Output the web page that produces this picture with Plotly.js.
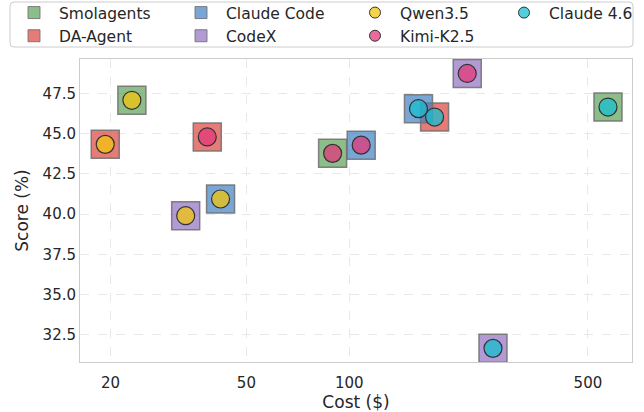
<!DOCTYPE html>
<html>
<head>
<meta charset="utf-8">
<script src="https://cdn.plot.ly/plotly-3.0.1.min.js"></script>
<style>html,body{margin:0;padding:0;background:#fff;}#chart{width:644px;height:412px;}</style>
</head>
<body>
<div id="chart"></div>
<script>
// ---- data ----
const frameworkNames = ['Smolagents', 'DA-Agent', 'Claude Code', 'CodeX'];
const modelNames = ['Qwen3.5', 'Kimi-K2.5', 'Claude 4.6'];
const runFramework = ['DA-Agent', 'Smolagents', 'DA-Agent', 'CodeX', 'Claude Code', 'Smolagents', 'Claude Code', 'Claude Code', 'DA-Agent', 'CodeX', 'Smolagents', 'CodeX'];
const runModel = ['Qwen3.5', 'Qwen3.5', 'Kimi-K2.5', 'Qwen3.5', 'Qwen3.5', 'Kimi-K2.5', 'Kimi-K2.5', 'Claude 4.6', 'Claude 4.6', 'Kimi-K2.5', 'Claude 4.6', 'Claude 4.6'];
const runCost = [19.3, 23.1, 38.4, 33.2, 42.0, 89.4, 108.4, 159.5, 177.8, 221.6, 572.4, 263.6];
const runScore = [44.34, 47.08, 44.8, 39.9, 40.94, 43.78, 44.29, 46.56, 46.04, 48.75, 46.66, 31.65];
const xTickVals = [20, 50, 100, 500];
const xTickText = ['20', '50', '100', '500'];
const yTickVals = [32.5, 35.0, 37.5, 40.0, 42.5, 45.0, 47.5];
const yTickText = ['32.5', '35.0', '37.5', '40.0', '42.5', '45.0', '47.5'];

// ---- styles ----
const frameworkColor = {
  'Smolagents': 'rgba(92,163,88,0.7)',
  'DA-Agent': 'rgba(218,68,62,0.7)',
  'Claude Code': 'rgba(65,128,197,0.7)',
  'CodeX': 'rgba(145,113,194,0.7)'
};
const modelColor = {
  'Qwen3.5': 'rgba(241,196,15,0.75)',
  'Kimi-K2.5': 'rgba(226,56,122,0.75)',
  'Claude 4.6': 'rgba(23,190,207,0.75)'
};
const FONT = 'DejaVu Sans, sans-serif';
const TXT = '#262626';

const traces = [];
frameworkNames.forEach(f => {
  const xs = [], ys = [];
  runFramework.forEach((rf, i) => { if (rf === f) { xs.push(runCost[i]); ys.push(runScore[i]); } });
  traces.push({
    type: 'scatter', mode: 'markers', x: xs, y: ys, showlegend: false, hoverinfo: 'skip',
    cliponaxis: false,
    marker: {symbol: 'square', size: 28, color: frameworkColor[f], line: {color: 'rgba(110,110,110,0.85)', width: 1.5}}
  });
});
modelNames.forEach(m => {
  const xs = [], ys = [];
  runModel.forEach((rm, i) => { if (rm === m) { xs.push(runCost[i]); ys.push(runScore[i]); } });
  traces.push({
    type: 'scatter', mode: 'markers', x: xs, y: ys, showlegend: false, hoverinfo: 'skip',
    cliponaxis: false,
    marker: {symbol: 'circle', size: 18, color: modelColor[m], line: {color: '#333333', width: 1.2}}
  });
});

// legend columns
const legendColumns = [
  [['Smolagents', 'square'], ['DA-Agent', 'square']],
  [['Claude Code', 'square'], ['CodeX', 'square']],
  [['Qwen3.5', 'circle'], ['Kimi-K2.5', 'circle']],
  [['Claude 4.6', 'circle']]
];
const legendIds = ['legend', 'legend2', 'legend3', 'legend4'];
legendColumns.forEach((col, ci) => {
  col.forEach(([name, sym]) => {
    const isSq = sym === 'square';
    traces.push({
      type: 'scatter', mode: 'markers', x: [null], y: [null], name: name, showlegend: true,
      legend: legendIds[ci],
      marker: {
        symbol: sym, size: isSq ? 12 : 11,
        color: isSq ? frameworkColor[name] : modelColor[name],
        line: {color: isSq ? 'rgba(110,110,110,0.85)' : '#333333', width: 1}
      }
    });
  });
});

const L = 80, R = 12, T = 59, B = 50, W = 644, H = 412;
const pw = W - L - R, ph = H - T - B;
const px2x = p => (p - L) / pw;
const py2y = p => (H - B - p) / ph;

const colMarkerX = [33, 200, 374, 523];
const layout = {
  width: W, height: H,
  paper_bgcolor: '#ffffff', plot_bgcolor: '#ffffff',
  font: {family: FONT, size: 15, color: TXT},
  margin: {l: L, r: R, t: T, b: B, autoexpand: false},
  showlegend: true,
  xaxis: {
    type: 'log', range: [Math.log10(16.28), Math.log10(673)],
    tickmode: 'array', tickvals: xTickVals, ticktext: xTickText,
    showgrid: true, gridcolor: '#e8e8e8', griddash: 'dash', gridwidth: 1,
    showline: true, linecolor: '#cccccc', linewidth: 1, mirror: true,
    ticks: '', zeroline: false, ticklabelstandoff: 7,
    tickfont: {family: FONT, size: 15, color: TXT},
    title: {text: 'Cost ($)', font: {family: FONT, size: 17, color: TXT}, standoff: 1}
  },
  yaxis: {
    range: [30.8, 49.65],
    tickmode: 'array', tickvals: yTickVals, ticktext: yTickText,
    showgrid: true, gridcolor: '#e8e8e8', griddash: 'dash', gridwidth: 1,
    showline: true, linecolor: '#cccccc', linewidth: 1, mirror: true,
    ticks: '', zeroline: false,
    tickfont: {family: FONT, size: 15, color: TXT},
    title: {text: 'Score (%)', font: {family: FONT, size: 17, color: TXT}, standoff: 9}
  },
  shapes: []
};
legendIds.forEach((id, ci) => {
  layout[id] = {
    orientation: 'v',
    x: px2x(colMarkerX[ci] - 24), y: py2y(-4), xanchor: 'left', yanchor: 'top',
    bgcolor: 'rgba(0,0,0,0)', borderwidth: 0,
    font: {family: FONT, size: 15.5, color: TXT},
    itemwidth: 40, tracegroupgap: 0
  };
});
// rounded legend frame
(function () {
  const x0 = px2x(10), x1 = px2x(633), y0 = py2y(47), y1 = py2y(2);
  const rx = 4 / pw, ry = 4 / ph;
  const path = `M ${x0 + rx},${y1} L ${x1 - rx},${y1} Q ${x1},${y1} ${x1},${y1 - ry} L ${x1},${y0 + ry} Q ${x1},${y0} ${x1 - rx},${y0} L ${x0 + rx},${y0} Q ${x0},${y0} ${x0},${y0 + ry} L ${x0},${y1 - ry} Q ${x0},${y1} ${x0 + rx},${y1} Z`;
  layout.shapes.push({type: 'path', xref: 'paper', yref: 'paper', path: path, line: {color: '#cccccc', width: 1}, fillcolor: 'rgba(255,255,255,0.8)', layer: 'above'});
})();

Plotly.newPlot('chart', traces, layout, {displayModeBar: false, staticPlot: true});
</script>
</body>
</html>
